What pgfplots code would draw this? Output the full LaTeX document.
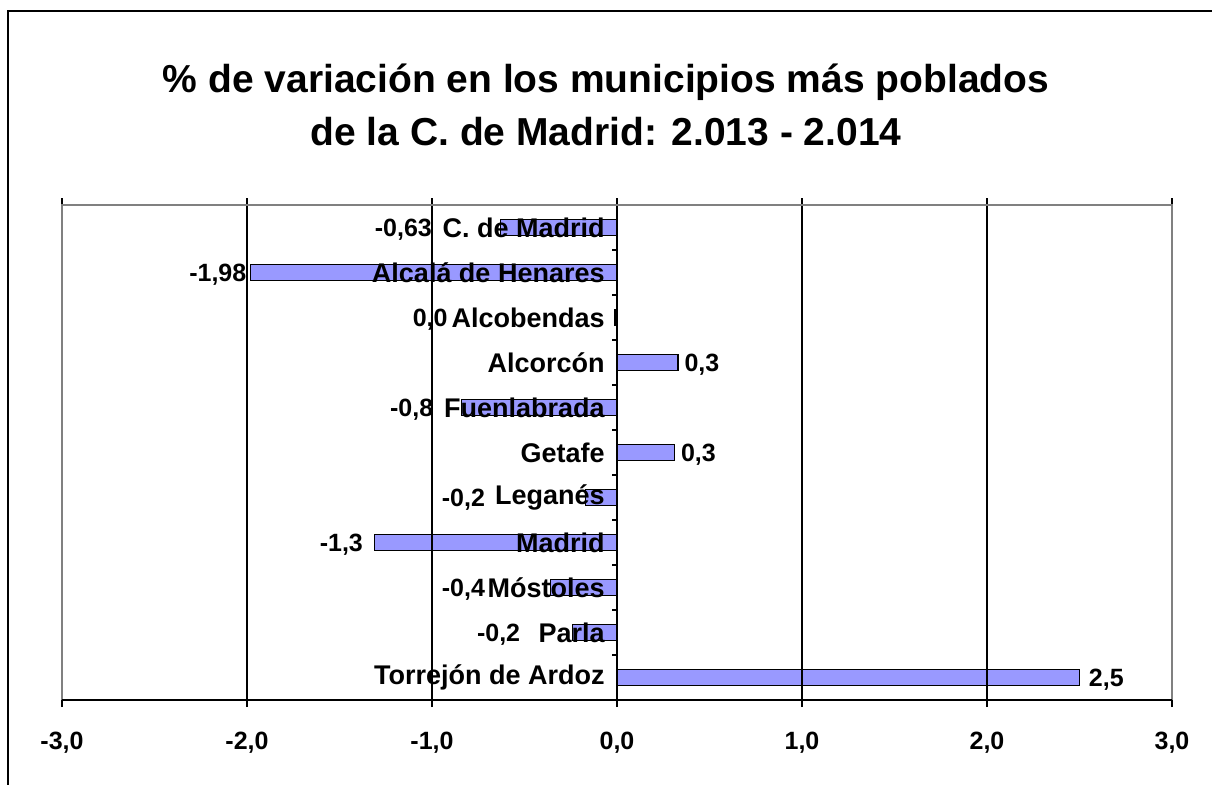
\documentclass[border=0pt]{standalone}
\usepackage{fontspec}
\setmainfont{Liberation Sans}
\usepackage{pgfplots}
\usepackage{pgfplotstable}
\pgfplotsset{compat=1.18}
\definecolor{barblue}{RGB}{153,153,255}
\definecolor{framegray}{RGB}{128,128,128}

% idx = row from the top, val = % variation, lx = where its label sits
\pgfplotstableread{
idx val   lx     lab
0  -0.63 -1.155 -0,63
1  -1.98 -2.158 -1,98
2  -0.01 -1.01  0,0
3   0.33  0.459 0,3
4  -0.84 -1.11  -0,8
5   0.31  0.44  0,3
6  -0.17 -0.83  -0,2
7  -1.31 -1.49  -1,3
8  -0.36 -0.83  -0,4
9  -0.24 -0.64  -0,2
10  2.50  2.645 2,5
}\datatable

\begin{document}
\begin{tikzpicture}
\useasboundingbox (0,0) rectangle (606pt,392pt);
\draw[line width=1pt] (4.2pt,-2pt) |- (610pt,386.5pt);
\node[align=center, font=\fontsize{19.5}{26.5}\selectfont\bfseries] at (303pt,339.5pt)
  {\% de variación en los municipios más poblados\\de la C. de Madrid: 2.013 - 2.014};
\begin{axis}[
    at={(31pt,42pt)}, anchor=south west,
    scale only axis,
    width=555pt, height=247.5pt,
    xmin=-3, xmax=3,
    ymin=-0.5, ymax=10.5,
    y dir=reverse,
    axis on top,
    xtick={-3,-2,...,3},
    xmajorgrids,
    grid style={black, line width=0.8pt},
    axis line style={draw=none},
    tick align=outside,
    major tick length=3.5pt,
    xtick style={black, line width=0.8pt},
    ytick={0,...,10},
    ytick style={draw=none},
    yticklabels={C. de Madrid, Alcalá de Henares, Alcobendas, Alcorcón,
        Fuenlabrada, Getafe, Leganés, Madrid, Móstoles, Parla, Torrejón de Ardoz},
    yticklabel style={anchor=east, inner sep=0pt, xshift=275pt,
        font=\fontsize{13.5}{15}\selectfont\bfseries},
    xticklabel style={yshift=-9pt, font=\fontsize{12.5}{14}\selectfont\bfseries},
    /pgf/number format/.cd, fixed, fixed zerofill, precision=1, use comma,
        assume math mode=true,
    /pgfplots/.cd,
    after end axis/.code={
        \foreach \k in {0.5,1.5,...,9.5}
            \draw[black, line width=0.8pt] (axis cs:0,\k) -- ++(-2.5pt,0pt);
        \draw[framegray, line width=0.8pt] (rel axis cs:0,0) |- (rel axis cs:1,1) -- (rel axis cs:1,0);
        \draw[black, line width=0.8pt] (rel axis cs:0,0) -- (rel axis cs:1,0);
    },
]
\addplot[xbar, bar width=8pt, fill=barblue, draw=black, line width=0.8pt]
    table[x=val, y=idx] {\datatable};
\addplot[only marks, mark=*, mark size=0pt, mark options={draw=none, fill=none},
    nodes near coords, point meta=explicit symbolic,
    nodes near coords style={anchor=base, yshift=-4.7pt, text=black, inner sep=0pt,
        font=\fontsize{12.5}{14}\selectfont\bfseries}]
    table[x=lx, y=idx, meta=lab] {\datatable};
\end{axis}
\end{tikzpicture}
\end{document}
